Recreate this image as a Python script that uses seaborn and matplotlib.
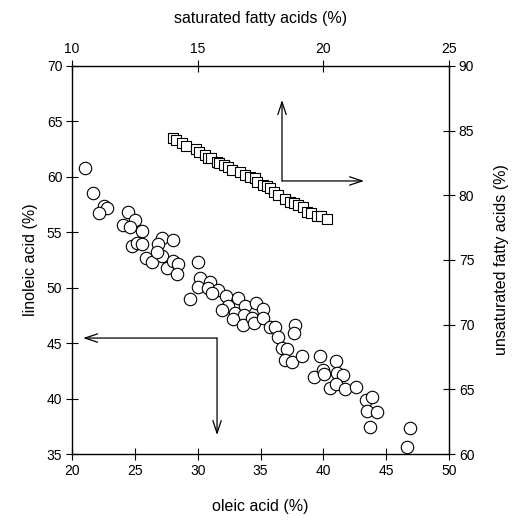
import numpy as np
import pandas as pd
import matplotlib
matplotlib.use("Agg")
import matplotlib.pyplot as plt
import seaborn as sns

# oleic acid (%) vs linoleic acid (%) -- circles, bottom/left axes
oleic = [21.03, 21.70, 22.57, 22.81, 22.15, 24.48, 25.01, 24.08, 24.62, 25.55,
         27.19, 28.06, 24.75, 25.15, 25.55, 26.87, 25.86, 26.34, 27.14, 26.74,
         27.54, 28.06, 28.41, 28.33, 30.05, 30.19, 30.00, 30.98, 30.85, 31.59,
         31.12, 29.40, 32.23, 33.24, 32.44, 31.96, 32.97, 33.77, 34.64, 33.71,
         32.84, 33.63, 34.30, 34.51, 35.22, 35.22, 35.76, 36.15, 36.37, 37.74,
         37.69, 36.69, 37.08, 36.95, 37.48, 38.28, 39.73, 41.00, 39.26, 40.00,
         40.05, 41.06, 41.54, 40.53, 41.00, 41.72, 42.60, 43.39, 43.85, 43.45,
         44.24, 43.71, 46.90, 46.63]
linoleic = [60.77, 58.52, 57.40, 57.16, 56.71, 56.80, 56.11, 55.66, 55.50, 55.12,
            54.51, 54.30, 53.79, 54.00, 53.92, 53.92, 52.65, 52.29, 52.89, 53.25,
            51.75, 52.41, 52.11, 51.21, 52.29, 50.85, 50.04, 50.54, 49.95, 49.79,
            49.49, 49.00, 49.25, 49.04, 48.35, 47.99, 47.75, 48.35, 48.65, 47.54,
            47.15, 46.64, 47.24, 46.79, 48.05, 47.24, 46.43, 46.43, 45.53, 46.64,
            45.94, 44.53, 44.44, 43.48, 43.33, 43.84, 43.84, 43.42, 41.97, 42.58,
            42.22, 42.28, 42.13, 40.93, 41.29, 40.84, 41.02, 39.87, 40.17, 38.88,
            38.82, 37.41, 37.37, 35.66]

# saturated vs unsaturated fatty acids (%) -- squares, top/right axes
saturated = [14.01, 14.14, 14.37, 14.54, 14.93, 15.07, 15.29, 15.42, 15.53, 15.76,
             15.86, 16.05, 16.22, 16.36, 16.69, 16.88, 17.08, 17.28, 17.35, 17.61,
             17.76, 17.88, 18.04, 18.21, 18.48, 18.67, 18.83, 19.01, 19.19, 19.34,
             19.51, 19.74, 19.91, 20.14]
unsaturated = [84.46, 84.28, 84.02, 83.81, 83.58, 83.33, 83.12, 82.91, 82.89, 82.60,
               82.48, 82.31, 82.21, 81.96, 81.83, 81.57, 81.44, 81.32, 81.05, 80.80,
               80.72, 80.54, 80.26, 80.03, 79.72, 79.51, 79.42, 79.26, 79.06, 78.73,
               78.67, 78.43, 78.37, 78.17]

sns.set_style("ticks", {"axes.edgecolor": "black", "text.color": "black",
                        "xtick.color": "black", "ytick.color": "black",
                        "axes.labelcolor": "black"})
plt.rcParams['font.family'] = ['Liberation Sans', 'DejaVu Sans']

fig = plt.figure(figsize=(5.13, 5.20), dpi=100)
ax = fig.add_axes([0.1404, 0.1269, 0.7349, 0.7462])
ax2 = fig.add_axes([0.1404, 0.1269, 0.7349, 0.7462], frameon=False)

df1 = pd.DataFrame({"oleic": oleic, "linoleic": linoleic})
df2 = pd.DataFrame({"sat": saturated, "unsat": unsaturated})

sns.scatterplot(data=df1, x="oleic", y="linoleic", ax=ax, marker="o", s=80,
                facecolor="white", edgecolor="black", linewidth=0.8)
sns.scatterplot(data=df2, x="sat", y="unsat", ax=ax2, marker="s", s=60,
                facecolor="white", edgecolor="black", linewidth=0.8)

ax.set_xlim(20, 50)
ax.set_ylim(35, 70)
ax.set_xticks(np.arange(20, 51, 5))
ax.set_yticks(np.arange(35, 71, 5))
ax.set_xlabel("oleic acid (%)", fontsize=11.5, labelpad=15)
ax.set_ylabel("linoleic acid (%)", fontsize=11.5, labelpad=6)

ax2.set_xlim(10, 25)
ax2.set_ylim(60, 90)
ax2.set_xticks(np.arange(10, 26, 5))
ax2.set_yticks(np.arange(60, 91, 5))
ax2.xaxis.tick_top()
ax2.yaxis.tick_right()
ax2.xaxis.set_label_position("top")
ax2.yaxis.set_label_position("right")
ax2.set_xlabel("saturated fatty acids (%)", fontsize=11.5, labelpad=14)
ax2.set_ylabel("unsaturated fatty acids (%)", fontsize=11.5, labelpad=14)

for a in (ax, ax2):
    a.tick_params(direction="inout", length=8, width=0.8, labelsize=10, pad=3,
                  colors="black")
for s in ax.spines.values():
    s.set_linewidth(1.0)
    s.set_visible(True)

# direction arrows
arrow = dict(arrowstyle="->,head_length=0.9,head_width=0.3", lw=0.9, color="black",
             shrinkA=0, shrinkB=0)
ax.annotate("", xy=(36.71, 66.93), xytext=(36.71, 59.63), arrowprops=arrow)
ax.annotate("", xy=(43.24, 59.63), xytext=(36.71, 59.63), arrowprops=arrow)
ax.annotate("", xy=(20.88, 45.46), xytext=(31.54, 45.46), arrowprops=arrow)
ax.annotate("", xy=(31.54, 36.71), xytext=(31.54, 45.46), arrowprops=arrow)

fig.savefig("out.png", dpi=100)
